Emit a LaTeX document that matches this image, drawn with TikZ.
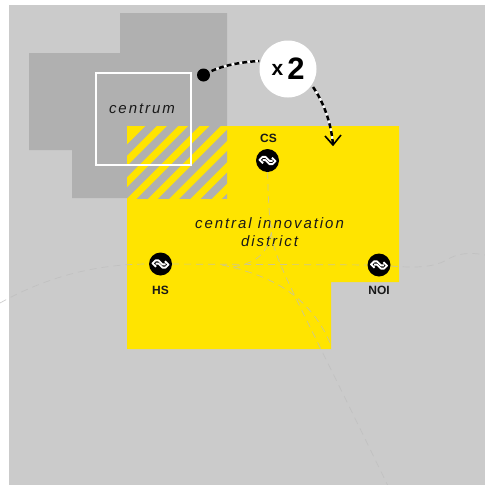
\documentclass[tikz,border=0pt]{standalone}
\usepackage{fontspec}
\setmainfont{Liberation Sans}
\newfontfamily\spaced[LetterSpace=13]{Liberation Sans}
\usetikzlibrary{arrows.meta}
\definecolor{bgc}{RGB}{203,203,203}
\definecolor{dark}{RGB}{176,176,176}
\definecolor{yel}{RGB}{255,228,0}
\definecolor{rail}{RGB}{190,190,190}
\tikzset{
  x=1pt,y=-1pt,
  rail line/.style={draw=rail,line width=0.7pt,dash pattern=on 7pt off 5pt,opacity=.75},
  station/.style={circle,fill=black,minimum size=23pt,inner sep=0pt},
  stname/.style={font=\bfseries\fontsize{12}{12}\selectfont,text=black!90,inner sep=0pt},
  areatext/.style={font=\spaced\itshape\fontsize{15}{18}\selectfont,text=black!90,inner sep=0pt,align=center},
  whitedash/.style={draw=white,line width=2pt},
  blackdash/.style={draw=black,line width=2.5pt,dash pattern=on 5pt off 3pt},
  nslogo/.style={draw=white,line width=1.9pt,line join=round,line cap=butt}
}
\newcommand{\nsmark}[1]{%
  \begin{scope}[shift={(#1)}]
    \draw[nslogo] (-4.5,2.8) -- (-8,-0.6) -- (-5,-3.6) -- (-2,-3.6) -- (2,0.4) -- (5,0.4);
    \draw[nslogo] (4.5,-2.8) -- (8,0.6) -- (5,3.6) -- (2,3.6) -- (-2,-0.4) -- (-5,-0.4);
  \end{scope}}
\begin{document}
\begin{tikzpicture}
\useasboundingbox (0,0) rectangle (485,485);
\fill[white] (0,0) rectangle (485,485);
\fill[bgc] (9,5) rectangle (485,485);
\fill[dark] (120,13) -- (227,13) -- (227,198) -- (72,198) -- (72,150) -- (29,150) -- (29,53) -- (120,53) -- cycle;
\fill[yel] (127,126) -- (399,126) -- (399,282) -- (331,282) -- (331,349) -- (127,349) -- cycle;
\begin{scope}
  \clip (127,126) rectangle (227,198);
  \foreach \k in {0,...,7} {
    \pgfmathsetmacro{\c}{271.7+21.3*\k}
    \fill[dark] (\c-100,100) -- (\c+11-100,100) -- (\c+11-250,250) -- (\c-250,250) -- cycle;
  }
\end{scope}
\node[draw=white,line width=1.3pt,minimum width=95pt,minimum height=92pt,inner sep=0pt] (centrumbox) at (143.5,119) {};
\node[areatext] (centrumlabel) at (142,108.5) {centrum};
\node[areatext] (cid) at (269.5,232) {central innovation\\district};
\node[station] (hs) at (160.5,264) {};
\node[station] (cs) at (267.5,160.5) {};
\node[station] (noi) at (379,265) {};
\coordinate (railw) at (0,303);
\coordinate (raile) at (485,255);
\coordinate (rails) at (388,486);
\coordinate (j1) at (222,265);
\coordinate (j2) at (233,267);
\draw[rail line] (railw) .. controls (50,275) and (100,264) .. (hs);
\draw[rail line] (hs) -- (noi);
\draw[rail line] (noi) .. controls (415,268) and (435,268) .. (450,258) .. controls (462,252) and (475,253) .. (raile);
\draw[rail line] (cs) .. controls (268,200) and (270,235) .. (275,250) .. controls (285,280) and (310,325) .. (rails);
\draw[rail line] (j1) .. controls (270,275) and (310,295) .. (331,345);
\draw[rail line] (j2) .. controls (255,263) and (270,255) .. (272,225);
\nsmark{hs}
\nsmark{cs}
\nsmark{noi}
\node[stname] (hslabel) at (160.5,290) {HS};
\node[stname] (cslabel) at (268.5,138) {CS};
\node[stname] (noilabel) at (379,290) {NOI};
\node[circle,fill=black,minimum size=13pt,inner sep=0pt] (dot) at (203.5,75) {};
\node[circle,fill=white,minimum size=57pt,inner sep=0pt] (times) at (288,69) {};
\node[inner sep=0pt] (timesx) at (277.5,70) {\bfseries\fontsize{21}{21}\selectfont x};
\node[inner sep=0pt] (timestwo) at (296,69) {\bfseries\fontsize{31}{31}\selectfont 2};
\coordinate (target) at (333,145);
\draw[whitedash] (dot) ++(8,-4) .. controls (222,66) and (240,62) .. (times.west |- 0,61);
\draw[blackdash] (dot) ++(8,-4) .. controls (222,66) and (240,62) .. (times.west |- 0,61);
\draw[whitedash] (313,87) .. controls (322,100) and (331,120) .. (target);
\draw[blackdash] (313,87) .. controls (322,100) and (331,120) .. (target);
\draw[line width=1.6pt,line join=miter] (325,136) -- (target) -- (341,135);
\end{tikzpicture}
\end{document}
